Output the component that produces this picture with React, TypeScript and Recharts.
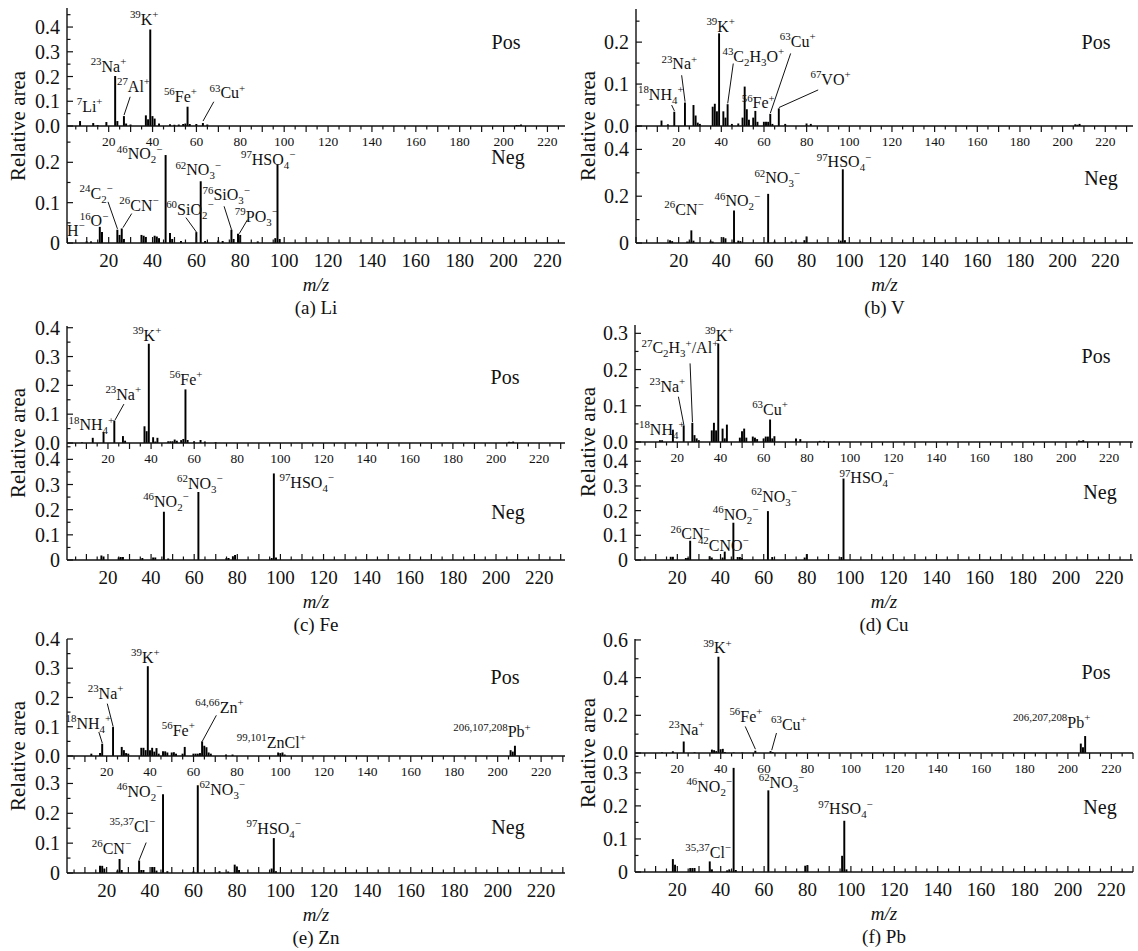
import React from "react";
import { BarChart, Bar, XAxis, YAxis, ReferenceDot, ReferenceLine } from "recharts";

const FONT = '"Liberation Serif", "Times New Roman", serif';
const INK = "#111";

// ---- spectra: m/z and relative area ----
const LI_POS_MZ = [7, 13, 15, 19, 23, 24, 27, 28, 30, 37, 38, 39, 40, 41, 43, 48, 50, 52, 54, 55, 56, 57, 60, 63, 65, 206, 207, 208];
const LI_POS_VAL = [0.02, 0.012, 0.004, 0.016, 0.202, 0.02, 0.04, 0.01, 0.006, 0.043, 0.027, 0.39, 0.04, 0.03, 0.01, 0.007, 0.005, 0.006, 0.008, 0.01, 0.078, 0.008, 0.008, 0.012, 0.006, 0.004, 0.003, 0.006];
const LI_NEG_MZ = [1, 10, 12, 16, 17, 24, 25, 26, 27, 35, 36, 37, 41, 42, 43, 46, 48, 49, 53, 60, 62, 64, 70, 72, 76, 77, 79, 80, 88, 96, 97, 98];
const LI_NEG_VAL = [0.013, 0.004, 0.004, 0.04, 0.027, 0.033, 0.02, 0.036, 0.01, 0.02, 0.018, 0.015, 0.018, 0.016, 0.012, 0.218, 0.025, 0.01, 0.005, 0.027, 0.153, 0.005, 0.006, 0.005, 0.033, 0.01, 0.023, 0.02, 0.004, 0.012, 0.195, 0.01];

const V_POS_MZ = [12, 15, 18, 23, 27, 28, 29, 30, 36, 37, 38, 39, 41, 42, 43, 45, 48, 50, 51, 52, 53, 55, 56, 57, 60, 61, 62, 63, 64, 67, 70, 80, 82, 206, 207, 208];
const V_POS_VAL = [0.013, 0.004, 0.034, 0.056, 0.05, 0.025, 0.008, 0.005, 0.046, 0.053, 0.035, 0.221, 0.035, 0.02, 0.052, 0.005, 0.006, 0.02, 0.094, 0.04, 0.015, 0.02, 0.036, 0.01, 0.01, 0.01, 0.01, 0.029, 0.005, 0.042, 0.005, 0.006, 0.005, 0.004, 0.003, 0.005];
const V_NEG_MZ = [16, 17, 24, 25, 26, 27, 35, 36, 41, 42, 46, 48, 49, 62, 65, 73, 75, 79, 80, 96, 97, 98];
const V_NEG_VAL = [0.012, 0.008, 0.006, 0.006, 0.054, 0.01, 0.008, 0.006, 0.025, 0.02, 0.139, 0.01, 0.008, 0.21, 0.006, 0.006, 0.005, 0.012, 0.028, 0.01, 0.315, 0.012];

const FE_POS_MZ = [8, 13, 18, 23, 27, 28, 37, 38, 39, 41, 42, 43, 48, 49, 50, 51, 52, 54, 55, 56, 57, 60, 63, 65, 70, 206, 207, 208];
const FE_POS_VAL = [0.003, 0.018, 0.038, 0.078, 0.024, 0.008, 0.058, 0.041, 0.344, 0.02, 0.005, 0.018, 0.006, 0.006, 0.006, 0.012, 0.008, 0.01, 0.014, 0.186, 0.01, 0.006, 0.01, 0.005, 0.003, 0.004, 0.003, 0.005];
const FE_NEG_MZ = [17, 18, 25, 26, 27, 36, 41, 42, 46, 48, 62, 75, 76, 78, 79, 96, 97, 98];
const FE_NEG_VAL = [0.018, 0.014, 0.01, 0.012, 0.012, 0.008, 0.01, 0.01, 0.192, 0.006, 0.27, 0.008, 0.008, 0.015, 0.02, 0.008, 0.344, 0.01];

const CU_POS_MZ = [12, 13, 18, 23, 27, 28, 29, 30, 36, 37, 38, 39, 41, 42, 43, 49, 50, 51, 52, 55, 56, 57, 60, 61, 62, 63, 64, 65, 75, 77, 86, 88, 206, 207, 208];
const CU_POS_VAL = [0.005, 0.005, 0.034, 0.046, 0.053, 0.019, 0.01, 0.005, 0.032, 0.053, 0.032, 0.272, 0.037, 0.01, 0.048, 0.012, 0.03, 0.037, 0.012, 0.015, 0.012, 0.008, 0.01, 0.015, 0.015, 0.062, 0.01, 0.016, 0.01, 0.008, 0.003, 0.003, 0.004, 0.003, 0.005];
const CU_NEG_MZ = [17, 18, 24, 25, 26, 35, 36, 41, 42, 46, 48, 49, 50, 62, 64, 79, 80, 96, 97];
const CU_NEG_VAL = [0.013, 0.013, 0.008, 0.008, 0.078, 0.015, 0.01, 0.01, 0.034, 0.151, 0.012, 0.012, 0.008, 0.198, 0.012, 0.01, 0.024, 0.012, 0.33];

const ZN_POS_MZ = [13, 17, 18, 23, 27, 28, 29, 30, 36, 37, 38, 39, 40, 41, 42, 43, 44, 46, 47, 48, 50, 51, 52, 55, 56, 60, 61, 62, 63, 64, 65, 66, 67, 68, 75, 78, 99, 100, 101, 102, 206, 207, 208];
const ZN_POS_VAL = [0.008, 0.01, 0.042, 0.099, 0.031, 0.02, 0.01, 0.008, 0.028, 0.028, 0.02, 0.307, 0.02, 0.028, 0.015, 0.027, 0.008, 0.016, 0.016, 0.012, 0.012, 0.013, 0.008, 0.008, 0.031, 0.008, 0.008, 0.008, 0.01, 0.05, 0.035, 0.03, 0.012, 0.008, 0.005, 0.005, 0.012, 0.01, 0.012, 0.005, 0.02, 0.015, 0.035];
const ZN_NEG_MZ = [17, 18, 19, 25, 26, 27, 35, 36, 37, 41, 42, 43, 46, 48, 60, 62, 72, 76, 79, 80, 81, 96, 97, 98];
const ZN_NEG_VAL = [0.024, 0.024, 0.015, 0.008, 0.047, 0.01, 0.042, 0.01, 0.01, 0.02, 0.02, 0.008, 0.264, 0.006, 0.005, 0.294, 0.006, 0.005, 0.028, 0.022, 0.01, 0.015, 0.117, 0.006];

const PB_POS_MZ = [13, 18, 23, 28, 36, 37, 38, 39, 40, 41, 42, 46, 50, 56, 63, 64, 206, 207, 208];
const PB_POS_VAL = [0.004, 0.009, 0.061, 0.004, 0.018, 0.015, 0.01, 0.511, 0.02, 0.022, 0.005, 0.003, 0.003, 0.012, 0.01, 0.005, 0.05, 0.03, 0.09];
const PB_NEG_MZ = [18, 19, 26, 27, 28, 35, 36, 43, 44, 46, 47, 62, 79, 80, 96, 97, 98];
const PB_NEG_VAL = [0.039, 0.022, 0.012, 0.012, 0.012, 0.032, 0.008, 0.005, 0.008, 0.315, 0.006, 0.247, 0.019, 0.021, 0.049, 0.155, 0.008];

// ---- peak labels: "^" superscript, "_" subscript, parts split by "|" ----
type Lbl = { x: number; y: number; text: string; line?: number[] };

const LI_POS_LABELS: Lbl[] = [
  { x: 11.3, y: 0.057, text: "^7|Li|^+" },
  { x: 19.9, y: 0.218, text: "^23|Na|^+" },
  { x: 31.3, y: 0.137, text: "^27|Al|^+", line: [29.8, 0.118, 27, 0.044] },
  { x: 36.2, y: 0.408, text: "^39|K|^+" },
  { x: 52.7, y: 0.098, text: "^56|Fe|^+" },
  { x: 74.1, y: 0.112, text: "^63|Cu|^+", line: [67.9, 0.098, 63, 0.02] },
];
const LI_NEG_LABELS: Lbl[] = [
  { x: 5, y: 0.017, text: "H|^−" },
  { x: 13.3, y: 0.041, text: "^16|O|^−" },
  { x: 14.3, y: 0.11, text: "^24|C|_2|^−", line: [19.7, 0.102, 24, 0.035] },
  { x: 33.8, y: 0.079, text: "^26|CN|^−", line: [30.5, 0.073, 26.5, 0.038] },
  { x: 34.1, y: 0.207, text: "^46|NO|_2|^−" },
  { x: 57, y: 0.07, text: "^60|SiO|_2|^−", line: [55.2, 0.063, 60, 0.027] },
  { x: 60.8, y: 0.168, text: "^62|NO|_3|^−" },
  { x: 73.6, y: 0.106, text: "^76|SiO|_3|^−", line: [72.6, 0.091, 76, 0.033] },
  { x: 87.3, y: 0.052, text: "^79|PO|_3|^−", line: [83.3, 0.058, 79.5, 0.023] },
  { x: 92.7, y: 0.193, text: "^97|HSO|_4|^−" },
];
const V_POS_LABELS: Lbl[] = [
  { x: 11.6, y: 0.062, text: "^18|NH|_4|^+", line: [16.7, 0.05, 18, 0.036] },
  { x: 20.3, y: 0.135, text: "^23|Na|^+", line: [21.4, 0.121, 23, 0.058] },
  { x: 39.7, y: 0.225, text: "^39|K|^+" },
  { x: 55, y: 0.153, text: "^43|C|_2|H|_3|O|^+", line: [45.6, 0.149, 43, 0.054] },
  { x: 57.3, y: 0.042, text: "^56|Fe|^+" },
  { x: 75.8, y: 0.189, text: "^63|Cu|^+", line: [72.5, 0.173, 63, 0.031] },
  { x: 91.2, y: 0.098, text: "^67|VO|^+", line: [85.4, 0.086, 67, 0.044] },
];
const V_NEG_LABELS: Lbl[] = [
  { x: 22.5, y: 0.12, text: "^26|CN|^−" },
  { x: 47.5, y: 0.156, text: "^46|NO|_2|^−" },
  { x: 66.2, y: 0.255, text: "^62|NO|_3|^−" },
  { x: 97.5, y: 0.323, text: "^97|HSO|_4|^−" },
];
const FE_POS_LABELS: Lbl[] = [
  { x: 12.3, y: 0.044, text: "^18|NH|_4|^+" },
  { x: 27.1, y: 0.149, text: "^23|Na|^+", line: [27.4, 0.135, 23.3, 0.08] },
  { x: 38.1, y: 0.355, text: "^39|K|^+" },
  { x: 56.2, y: 0.201, text: "^56|Fe|^+" },
];
const FE_NEG_LABELS: Lbl[] = [
  { x: 46.9, y: 0.212, text: "^46|NO|_2|^−" },
  { x: 62.6, y: 0.284, text: "^62|NO|_3|^−" },
  { x: 112.2, y: 0.288, text: "^97|HSO|_4|^−" },
];
const CU_POS_LABELS: Lbl[] = [
  { x: 12.8, y: 0.02, text: "^18|NH|_4|^+" },
  { x: 15.4, y: 0.139, text: "^23|Na|^+", line: [20.5, 0.125, 23, 0.048] },
  { x: 21.2, y: 0.245, text: "^27|C|_2|H|_3|^+|/Al|^+", line: [25.9, 0.217, 27, 0.055] },
  { x: 39.4, y: 0.28, text: "^39|K|^+" },
  { x: 62.9, y: 0.074, text: "^63|Cu|^+" },
];
const CU_NEG_LABELS: Lbl[] = [
  { x: 25.9, y: 0.084, text: "^26|CN|^−" },
  { x: 41.3, y: 0.038, text: "^42|CNO|^−" },
  { x: 47, y: 0.162, text: "^46|NO|_2|^−" },
  { x: 64.8, y: 0.236, text: "^62|NO|_3|^−" },
  { x: 107.7, y: 0.31, text: "^97|HSO|_4|^−" },
];
const ZN_POS_LABELS: Lbl[] = [
  { x: 11.6, y: 0.093, text: "^18|NH|_4|^+", line: [16.4, 0.082, 18, 0.044] },
  { x: 19.5, y: 0.196, text: "^23|Na|^+", line: [20.3, 0.179, 23, 0.1] },
  { x: 37.8, y: 0.319, text: "^39|K|^+" },
  { x: 53, y: 0.07, text: "^56|Fe|^+" },
  { x: 71.9, y: 0.148, text: "^64,66|Zn|^+", line: [70.5, 0.139, 64, 0.05] },
  { x: 95.8, y: 0.027, text: "^99,101|ZnCl|^+" },
  { x: 197.4, y: 0.064, text: "^206,107,208|Pb|^+" },
];
const ZN_NEG_LABELS: Lbl[] = [
  { x: 22.2, y: 0.064, text: "^26|CN|^−" },
  { x: 31.8, y: 0.139, text: "^35,37|Cl|^−", line: [38.2, 0.102, 35, 0.044] },
  { x: 35.1, y: 0.255, text: "^46|NO|_2|^−" },
  { x: 73.2, y: 0.261, text: "^62|NO|_3|^−" },
  { x: 96.9, y: 0.131, text: "^97|HSO|_4|^−" },
];
const PB_POS_LABELS: Lbl[] = [
  { x: 24.3, y: 0.097, text: "^23|Na|^+" },
  { x: 38.5, y: 0.529, text: "^39|K|^+" },
  { x: 51.6, y: 0.164, text: "^56|Fe|^+", line: [51.3, 0.141, 56, 0.02] },
  { x: 71.4, y: 0.123, text: "^63|Cu|^+", line: [65.7, 0.106, 63.5, 0.015] },
  { x: 192.5, y: 0.134, text: "^206,207,208|Pb|^+" },
];
const PB_NEG_LABELS: Lbl[] = [
  { x: 34.2, y: 0.042, text: "^35,37|Cl|^−" },
  { x: 34.7, y: 0.243, text: "^46|NO|_2|^−" },
  { x: 68, y: 0.255, text: "^62|NO|_3|^−" },
  { x: 97.5, y: 0.174, text: "^97|HSO|_4|^−" },
];

// ---- panel layout ----
const PANELS = [
  {
    caption: "(a) Li", left: 67, width: 498, posTop: 8, sep: 126, negBottom: 243, domain: [1, 228],
    pos: { mz: LI_POS_MZ, val: LI_POS_VAL, labels: LI_POS_LABELS, max: 0.477, step: 0.05, labelStep: 0.1 },
    neg: { mz: LI_NEG_MZ, val: LI_NEG_VAL, labels: LI_NEG_LABELS, max: 0.29, step: 0.05, labelStep: 0.1 },
    posTag: [506, 42], negTag: [508, 157],
  },
  {
    caption: "(b) V", left: 636, width: 497, posTop: 9, sep: 126, negBottom: 243, domain: [0, 233],
    pos: { mz: V_POS_MZ, val: V_POS_VAL, labels: V_POS_LABELS, max: 0.279, step: 0.05, labelStep: 0.1 },
    neg: { mz: V_NEG_MZ, val: V_NEG_VAL, labels: V_NEG_LABELS, max: 0.5, step: 0.1, labelStep: 0.2 },
    posTag: [1096, 42], negTag: [1101, 178],
  },
  {
    caption: "(c) Fe", left: 67, width: 498, posTop: 326, sep: 443, negBottom: 560, domain: [1, 232],
    pos: { mz: FE_POS_MZ, val: FE_POS_VAL, labels: FE_POS_LABELS, max: 0.406, step: 0.05, labelStep: 0.1 },
    neg: { mz: FE_NEG_MZ, val: FE_NEG_VAL, labels: FE_NEG_LABELS, max: 0.465, step: 0.05, labelStep: 0.1 },
    posTag: [505, 377], negTag: [508, 512],
  },
  {
    caption: "(d) Cu", left: 635, width: 498, posTop: 325, sep: 442, negBottom: 560, domain: [0.4, 231],
    pos: { mz: CU_POS_MZ, val: CU_POS_VAL, labels: CU_POS_LABELS, max: 0.323, step: 0.05, labelStep: 0.1 },
    neg: { mz: CU_NEG_MZ, val: CU_NEG_VAL, labels: CU_NEG_LABELS, max: 0.478, step: 0.05, labelStep: 0.1 },
    posTag: [1096, 356], negTag: [1100, 492],
  },
  {
    caption: "(e) Zn", left: 67, width: 498, posTop: 639, sep: 756, negBottom: 873, domain: [1.75, 231],
    pos: { mz: ZN_POS_MZ, val: ZN_POS_VAL, labels: ZN_POS_LABELS, max: 0.4, step: 0.05, labelStep: 0.1 },
    neg: { mz: ZN_NEG_MZ, val: ZN_NEG_VAL, labels: ZN_NEG_LABELS, max: 0.392, step: 0.05, labelStep: 0.1 },
    posTag: [505, 677], negTag: [508, 827],
  },
  {
    caption: "(f) Pb", left: 635, width: 498, posTop: 639, sep: 753, negBottom: 872, domain: [0.5, 230],
    pos: { mz: PB_POS_MZ, val: PB_POS_VAL, labels: PB_POS_LABELS, max: 0.605, step: 0.1, labelStep: 0.2 },
    neg: { mz: PB_NEG_MZ, val: PB_NEG_VAL, labels: PB_NEG_LABELS, max: 0.36, step: 0.05, labelStep: 0.1 },
    posTag: [1096, 672], negTag: [1100, 807],
  },
];

const yTicksOf = (max: number, step: number) => {
  const out: number[] = [];
  for (let k = 0; k * step <= max + 1e-9; k++) out.push(+(k * step).toFixed(3));
  return out;
};
const xTicksOf = (d: number[]) => {
  const out: number[] = [];
  for (let v = Math.ceil(d[0] / 5) * 5; v <= d[1]; v += 5) out.push(v);
  return out;
};

function Rich({ x, y, text, size = 16 }: { x: number; y: number; text: string; size?: number }) {
  let shift = 0;
  const spans = text.split("|").map((p, i) => {
    let kind = "n";
    let t = p;
    if (p[0] === "^") { kind = "sup"; t = p.slice(1); }
    else if (p[0] === "_") { kind = "sub"; t = p.slice(1); }
    const target = kind === "sup" ? -size * 0.42 : kind === "sub" ? size * 0.25 : 0;
    const dy = target - shift;
    shift = target;
    return (
      <tspan key={i} dy={dy} fontSize={kind === "n" ? size : size * 0.68}>
        {t}
      </tspan>
    );
  });
  return (
    <text x={x} y={y} textAnchor="middle" fontFamily={FONT} fill={INK}>
      {spans}
    </text>
  );
}

const axisLine = { stroke: INK, strokeWidth: 1.4 };

function Spectrum({ sub, kind, panel }: any) {
  const isPos = kind === "pos";
  const mT = isPos ? 12 : 0;
  const axisH = isPos ? 30 : 40;
  const plotH = isPos ? panel.sep - panel.posTop : panel.negBottom - panel.sep;
  const top = isPos ? panel.posTop : panel.sep;
  const W = 60 + panel.width + 10;
  const H = mT + plotH + axisH;
  const data = sub.mz.map((m: number, i: number) => ({ mz: m, v: sub.val[i] }));
  const xt = xTicksOf(panel.domain);
  const yt = yTicksOf(sub.max, sub.step);

  const xTick = (p: any) => {
    const v = p.payload.value;
    const len = v % 10 === 0 ? 6 : 3.5;
    const dir = isPos ? 1 : -1;
    return (
      <g>
        <line x1={p.x} x2={p.x} y1={p.y} y2={p.y + dir * len} stroke={INK} strokeWidth={1.2} />
        {v > 0 && v % 20 === 0 && (
          <text x={p.x} y={p.y + (isPos ? 20 : 24)} textAnchor="middle" fontFamily={FONT}
            fontSize={isPos ? 13.5 : 19} fill={INK}>
            {v}
          </text>
        )}
      </g>
    );
  };
  const yTick = (p: any) => {
    const v = p.payload.value;
    const r = v / sub.labelStep;
    const major = Math.abs(r - Math.round(r)) < 1e-6;
    return (
      <g>
        <line x1={p.x} x2={p.x + (major ? 6 : 3.5)} y1={p.y} y2={p.y} stroke={INK} strokeWidth={1.2} />
        {major && (
          <text x={p.x - 7} y={p.y} dy="0.35em" textAnchor="end" fontFamily={FONT} fontSize={20} fill={INK}>
            {v === 0 ? (isPos ? "0.0" : "0") : v.toFixed(1)}
          </text>
        )}
      </g>
    );
  };

  return (
    <div style={{ position: "absolute", left: panel.left - 60, top: top - mT }}>
      <BarChart width={W} height={H} data={data} margin={{ top: mT, right: 10, bottom: 0, left: 0 }}>
        <XAxis dataKey="mz" type="number" domain={panel.domain} allowDataOverflow ticks={xt} interval={0}
          height={axisH} tickSize={0} tickMargin={0} tickLine={false} axisLine={axisLine} tick={xTick} />
        {isPos && (
          <XAxis xAxisId="top" orientation="top" type="number" domain={panel.domain} allowDataOverflow
            height={0} tick={false} tickLine={false} axisLine={axisLine} />
        )}
        <YAxis type="number" domain={[0, sub.max]} allowDataOverflow ticks={yt} interval={0} width={60}
          tickSize={0} tickMargin={0} tickLine={false} axisLine={axisLine} tick={yTick} />
        <YAxis yAxisId="right" orientation="right" type="number" domain={[0, sub.max]} width={0}
          tick={false} tickLine={false} axisLine={axisLine} />
        <Bar dataKey="v" fill="#000" barSize={3} isAnimationActive={false} />
        {sub.labels.filter((l: Lbl) => l.line).map((l: Lbl, i: number) => (
          <ReferenceLine key={"l" + i} ifOverflow="visible" stroke={INK} strokeWidth={1}
            segment={[{ x: l.line![0], y: l.line![1] }, { x: l.line![2], y: l.line![3] }]} />
        ))}
        {sub.labels.map((l: Lbl, i: number) => (
          <ReferenceDot key={"d" + i} x={l.x} y={l.y} r={0} ifOverflow="visible"
            shape={(p: any) => <Rich x={p.cx} y={p.cy} text={l.text} />} />
        ))}
      </BarChart>
    </div>
  );
}

const txt = (extra: React.CSSProperties): React.CSSProperties => ({
  position: "absolute", fontFamily: FONT, color: INK, whiteSpace: "nowrap",
  transform: "translate(-50%, -50%)", lineHeight: 1, ...extra,
});

export default function App() {
  return (
    <div style={{ position: "absolute", left: 0, top: 0, width: 1138, height: 951, background: "#fff" }}>
      {PANELS.map((p, i) => {
        const cx = p.left + p.width / 2;
        const yl = p.left < 300 ? 18 : 588;
        return (
          <React.Fragment key={i}>
            <Spectrum panel={p} sub={p.pos} kind="pos" />
            <Spectrum panel={p} sub={p.neg} kind="neg" />
            <div style={txt({ left: p.posTag[0], top: p.posTag[1], fontSize: 20 })}>Pos</div>
            <div style={txt({ left: p.negTag[0], top: p.negTag[1], fontSize: 20 })}>Neg</div>
            <div style={txt({ left: yl, top: p.sep, fontSize: 21, transform: "translate(-50%, -50%) rotate(-90deg)" })}>
              Relative area
            </div>
            <div style={txt({ left: cx, top: p.negBottom + 41, fontSize: 19, fontStyle: "italic" })}>m/z</div>
            <div style={txt({ left: cx, top: p.negBottom + 64, fontSize: 19 })}>{p.caption}</div>
          </React.Fragment>
        );
      })}
    </div>
  );
}
